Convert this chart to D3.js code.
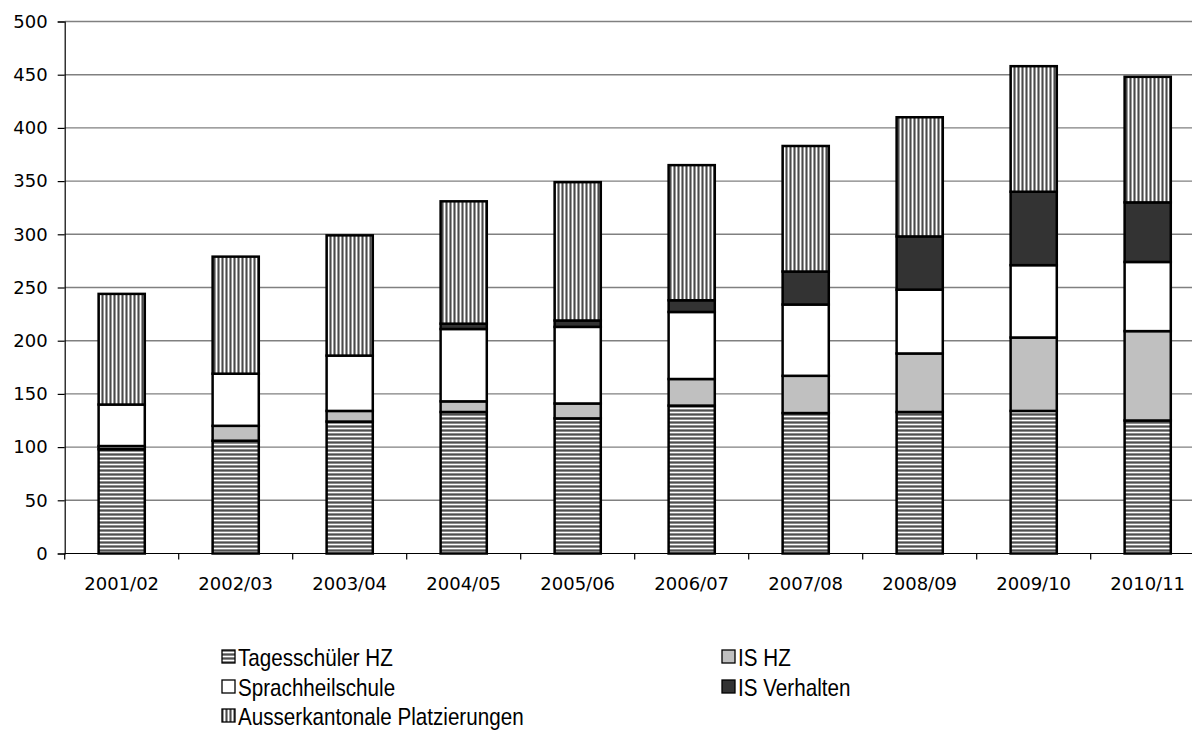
<!DOCTYPE html>
<html>
<head>
<meta charset="utf-8">
<script src="https://cdn.jsdelivr.net/npm/d3@7"></script>
<style>
  html, body { margin: 0; padding: 0; background: #fff; }
  svg { display: block; }
</style>
</head>
<body>
<svg id="chart" width="1192" height="735"></svg>
<script>
const categories = ["2001/02","2002/03","2003/04","2004/05","2005/06","2006/07","2007/08","2008/09","2009/10","2010/11"];
const seriesNames = ["Tagesschüler HZ","IS HZ","Sprachheilschule","IS Verhalten","Ausserkantonale Platzierungen"];
const tagesschuelerHZ = [98, 106, 124, 133, 127, 139, 132, 133, 134, 125];
const isHZ            = [3, 14, 10, 10, 14, 25, 35, 55, 69, 84];
const sprachheilschule= [39, 49, 52, 68, 72, 63, 67, 60, 68, 65];
const isVerhalten     = [0, 0, 0, 5, 6, 11, 31, 50, 69, 56];
const ausserkantonal  = [104, 110, 113, 115, 130, 127, 118, 112, 118, 118];
const yTicks = [0, 50, 100, 150, 200, 250, 300, 350, 400, 450, 500];

(function () {
const seriesValues = [tagesschuelerHZ, isHZ, sprachheilschule, isVerhalten, ausserkantonal];
const table = categories.map((c, i) => {
  const row = { cat: c };
  seriesNames.forEach((s, k) => row[s] = seriesValues[k][i]);
  return row;
});

const svg = d3.select("#chart");
const defs = svg.append("defs");

const ph = defs.append("pattern").attr("id", "hstripe").attr("patternUnits", "userSpaceOnUse")
  .attr("width", 4).attr("height", 4);
ph.append("rect").attr("width", 4).attr("height", 4).attr("fill", "#8c8c8c");
ph.append("rect").attr("y", 0).attr("width", 4).attr("height", 1).attr("fill", "#ffffff");
ph.append("rect").attr("y", 2).attr("width", 4).attr("height", 1).attr("fill", "#505050");

const pv = defs.append("pattern").attr("id", "vstripe").attr("patternUnits", "userSpaceOnUse")
  .attr("width", 4).attr("height", 4);
pv.append("rect").attr("width", 4).attr("height", 4).attr("fill", "#9a9a9a");
pv.append("rect").attr("x", 0).attr("width", 1).attr("height", 4).attr("fill", "#ffffff");
pv.append("rect").attr("x", 2).attr("width", 1).attr("height", 4).attr("fill", "#4a4a4a");

const fills = {
  "Tagesschüler HZ": "url(#hstripe)",
  "IS HZ": "#c0c0c0",
  "Sprachheilschule": "#ffffff",
  "IS Verhalten": "#333333",
  "Ausserkantonale Platzierungen": "url(#vstripe)"
};

const plotLeft = 64.7, step = 114, plotTop = 21.5, plotBottom = 553.5;
const x = d3.scaleBand().domain(categories).range([plotLeft, plotLeft + step * categories.length]).padding(0);
const y = d3.scaleLinear().domain([0, 500]).range([plotBottom, plotTop]);
const barW = x.bandwidth() * 0.405;

svg.append("g").selectAll("line").data(yTicks.filter(d => d > 0)).join("line")
  .attr("x1", plotLeft).attr("x2", 1192)
  .attr("y1", d => y(d)).attr("y2", d => y(d))
  .attr("stroke", "#808080").attr("stroke-width", 1.4);

const yAxis = d3.axisLeft(y).tickValues(yTicks).tickSize(7).tickPadding(10).tickFormat(d3.format("d"));
const gy = svg.append("g").attr("transform", `translate(${plotLeft},0)`).call(yAxis);
gy.select(".domain").attr("stroke", "#000").attr("stroke-width", 1.2);
gy.selectAll(".tick line").attr("stroke", "#000").attr("stroke-width", 1.2);
gy.selectAll(".tick text").attr("font-family", "DejaVu Sans, Verdana, sans-serif")
  .attr("font-size", 18).attr("fill", "#000");

const stack = d3.stack().keys(seriesNames);
const layers = stack(table);
const gBars = svg.append("g");
layers.forEach(layer => {
  gBars.append("g").selectAll("rect").data(layer).join("rect")
    .attr("x", d => x(d.data.cat) + (x.bandwidth() - barW) / 2)
    .attr("width", barW)
    .attr("y", d => y(d[1]))
    .attr("height", d => Math.max(0, y(d[0]) - y(d[1])))
    .attr("fill", fills[layer.key])
    .attr("stroke", "#000")
    .attr("stroke-width", d => (d[1] - d[0]) > 0 ? 2.5 : 0);
});

const gx = svg.append("g");
gx.append("line").attr("x1", plotLeft).attr("x2", 1192).attr("y1", plotBottom).attr("y2", plotBottom)
  .attr("stroke", "#000").attr("stroke-width", 1.2);
const bounds = categories.map(c => x(c)).concat([x(categories[categories.length - 1]) + x.step()]);
gx.selectAll("line.tk").data(bounds).join("line").attr("class", "tk")
  .attr("x1", d => d).attr("x2", d => d).attr("y1", plotBottom).attr("y2", plotBottom + 6)
  .attr("stroke", "#000").attr("stroke-width", 1.2);
gx.selectAll("text").data(categories).join("text")
  .attr("x", d => x(d) + x.bandwidth() / 2).attr("y", 590)
  .attr("text-anchor", "middle")
  .attr("font-family", "DejaVu Sans, Verdana, sans-serif").attr("font-size", 18).attr("fill", "#000")
  .text(d => d);

const legendItems = [
  { name: "Tagesschüler HZ", col: 0, row: 0 },
  { name: "IS HZ", col: 1, row: 0 },
  { name: "Sprachheilschule", col: 0, row: 1 },
  { name: "IS Verhalten", col: 1, row: 1 },
  { name: "Ausserkantonale Platzierungen", col: 0, row: 2 }
];
const colX = [222, 722], rowY = [657, 687, 716];
const gl = svg.append("g");
legendItems.forEach(it => {
  const lx = colX[it.col], ly = rowY[it.row];
  gl.append("rect").attr("x", lx).attr("y", ly - 7).attr("width", 13).attr("height", 13)
    .attr("fill", fills[it.name]).attr("stroke", "#000").attr("stroke-width", 1.3);
  gl.append("text").attr("transform", `translate(${lx + 16},${ly + 9}) scale(0.86,1)`)
    .attr("font-family", "Liberation Sans, Arial, sans-serif")
    .attr("font-size", 24).attr("fill", "#000").text(it.name);
});
})();
</script>
</body>
</html>
